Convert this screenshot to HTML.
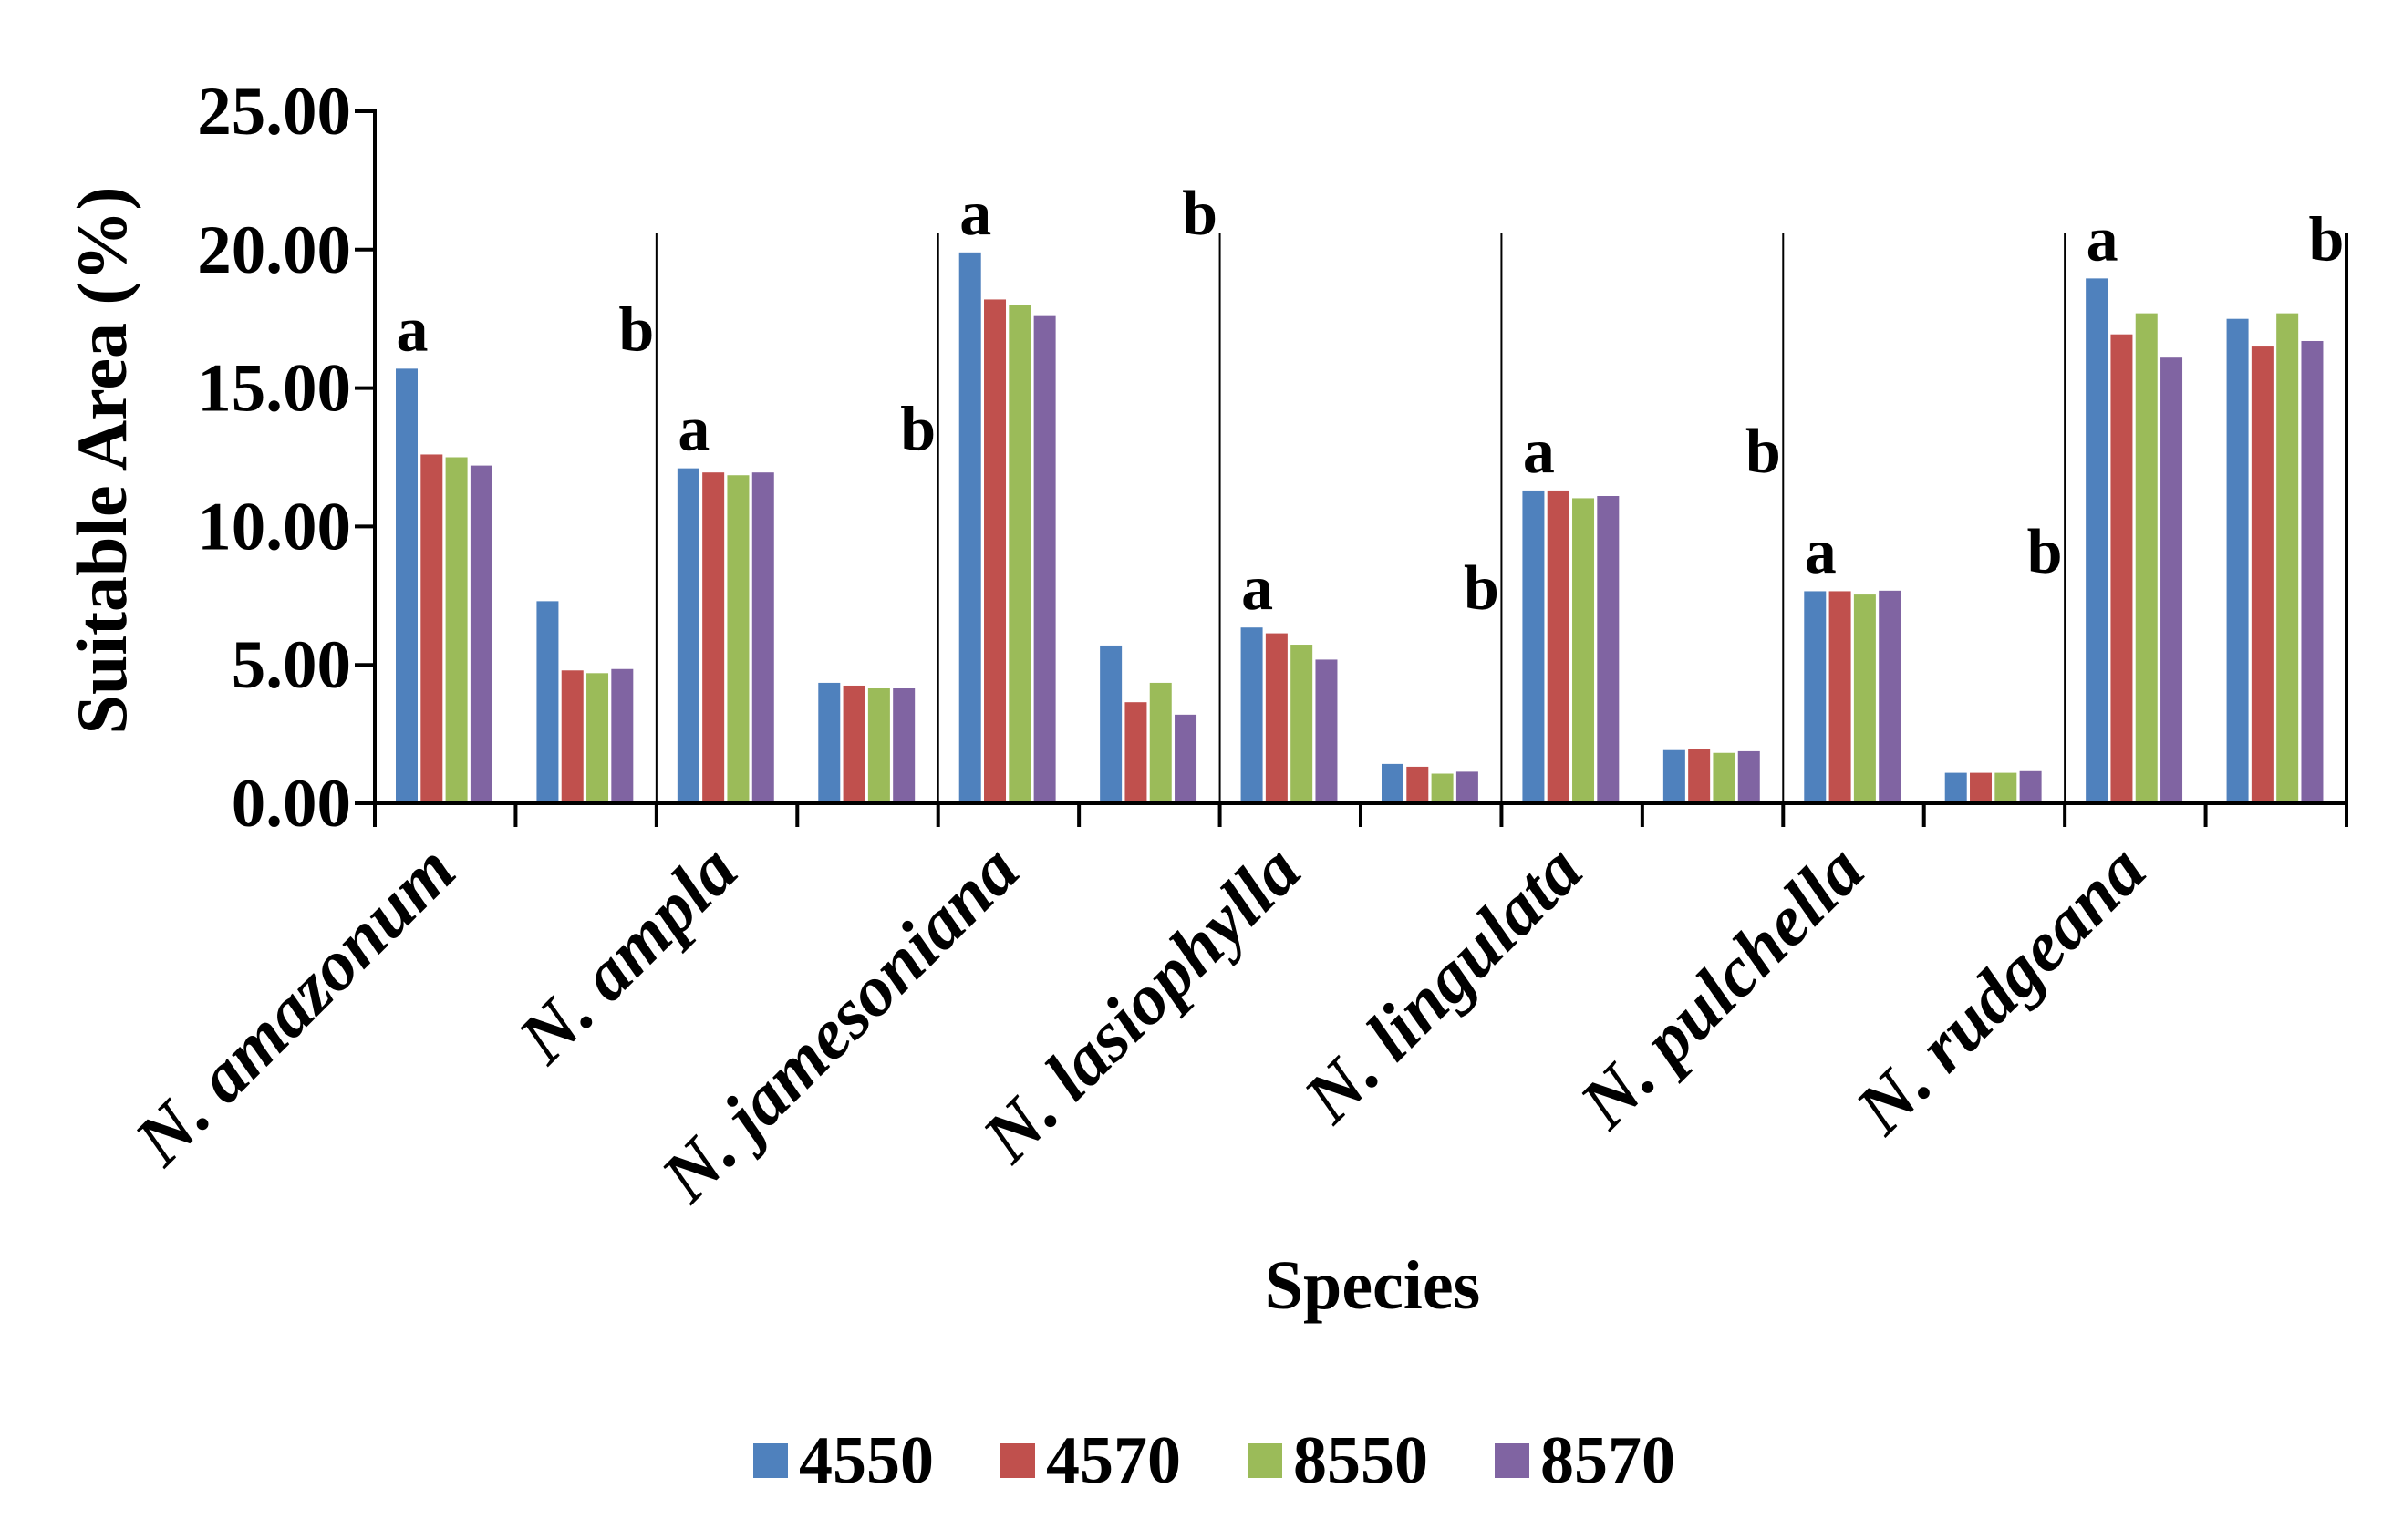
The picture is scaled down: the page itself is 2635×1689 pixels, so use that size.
<!DOCTYPE html>
<html><head><meta charset="utf-8"><style>
html,body{margin:0;padding:0;background:#fff;}
svg{display:block;}
text{font-family:"Liberation Serif",serif;font-weight:bold;fill:#000;}
</style></head><body>
<svg id="chart" width="2635" height="1689" viewBox="0 0 2635 1689" xmlns="http://www.w3.org/2000/svg">
<g id="bars"></g>
<g id="axes"></g>
<g id="labels"></g>
<text transform="translate(138,505) rotate(-90)" text-anchor="middle" font-size="78">Suitable Area (%)</text>
<text x="1505" y="1435" text-anchor="middle" font-size="76">Species</text>
<g id="legend"></g>
</svg>
<script>
const species = ["N. amazonum","N. ampla","N. jamesoniana","N. lasiophylla","N. lingulata","N. pulchella","N. rudgeana"];
const seriesNames = ["4550","4570","8550","8570"];
const s4550 = [15.7,7.3,12.1,4.35,19.9,5.7,6.35,1.42,11.3,1.92,7.66,1.1,18.96,17.5];
const s4570 = [12.6,4.8,11.95,4.25,18.2,3.65,6.14,1.32,11.3,1.95,7.66,1.1,16.94,16.5];
const s8550 = [12.5,4.7,11.85,4.15,18.0,4.35,5.73,1.07,11.02,1.82,7.54,1.1,17.7,17.7];
const s8570 = [12.2,4.85,11.95,4.15,17.6,3.2,5.19,1.14,11.1,1.88,7.68,1.16,16.1,16.7];
const yTicks = [0,5,10,15,20,25];
const yTickLabels = ["0.00","5.00","10.00","15.00","20.00","25.00"];
const colors = ["#4f81bd","#c0504d","#9bbb59","#8064a2"];
const NS="http://www.w3.org/2000/svg";
const X0=411, X1=2573, Y0=881, Y25=122;
const nG=14, gw=(X1-X0)/nG;
const y = v => Y0 - (v/25)*(Y0-Y25);
const gx = i => X0 + i*gw;
function mk(tag, attrs, parent){const e=document.createElementNS(NS,tag);for(const k in attrs)e.setAttribute(k,attrs[k]);parent.appendChild(e);return e;}
const bars=document.getElementById('bars'), axes=document.getElementById('axes'), labels=document.getElementById('labels'), legend=document.getElementById('legend');
const series=[s4550,s4570,s8550,s8570];
series.forEach((s,si)=>{
  s.forEach((v,gi)=>{
    const r=mk('rect',{x:gx(gi)+23+si*27.3,y:y(v),width:24,height:Y0-y(v),fill:colors[si]},bars);
    
    
  });
});
let l=mk('line',{x1:X0,y1:Y0,x2:X1,y2:Y0,stroke:'#000','stroke-width':4},axes);


l=mk('line',{x1:X0,y1:Y25-2,x2:X0,y2:Y0+2,stroke:'#000','stroke-width':4},axes);


yTicks.forEach((t,i)=>{
  const tk=mk('line',{x1:X0-22,y1:y(t),x2:X0,y2:y(t),stroke:'#000','stroke-width':4},axes);
  
  
  const tx=mk('text',{x:X0-26,y:y(t)+25,'text-anchor':'end','font-size':75},axes);
  tx.textContent=yTickLabels[i];
  
  
});
for(let i=0;i<=nG;i++){
  const tk=mk('line',{x1:gx(i),y1:Y0,x2:gx(i),y2:Y0+26,stroke:'#000','stroke-width':4},axes);
  
  
  if(i>0 && i%2===0){
    const sp=mk('line',{x1:gx(i),y1:256,x2:gx(i),y2:Y0,stroke:'#000','stroke-width':i===nG?4:2},axes);
    
    
  }
}
species.forEach((sp,i)=>{
  const cx=gx(2*i+1);
  const t=mk('text',{transform:`translate(${cx-62},${Y0+78}) rotate(-45)`,'text-anchor':'end','font-size':79,'font-style':'italic'},labels);
  t.textContent=sp;
  
  
  let mx=0;series.forEach(s=>{mx=Math.max(mx,s[2*i],s[2*i+1]);});
  const by=y(mx)-20;
  const a=mk('text',{x:gx(2*i)+41,y:by,'text-anchor':'middle','font-size':70},labels);
  a.textContent='a';
  
  
  const b=mk('text',{x:gx(2*i+2)-22,y:by,'text-anchor':'middle','font-size':70},labels);
  b.textContent='b';
  
  
});
seriesNames.forEach((n,i)=>{
  const lx=826+i*271;
  const r=mk('rect',{x:lx,y:1583,width:38,height:38,fill:colors[i]},legend);
  
  
  const t=mk('text',{x:lx+50,y:1626,'font-size':74},legend);
  t.textContent=n;
  
  
});
</script>
</body></html>
